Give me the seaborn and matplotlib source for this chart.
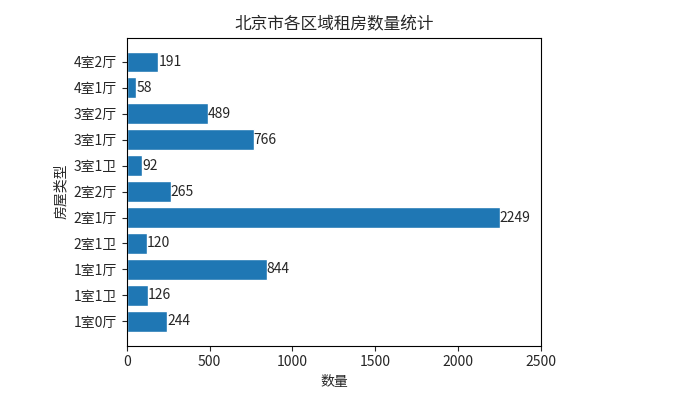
import matplotlib
matplotlib.use("Agg")
import matplotlib.pyplot as plt
import seaborn as sns
import pandas as pd

# house layouts, listed top to bottom as shown
room_types = ["4室2厅", "4室1厅", "3室2厅", "3室1厅", "3室1卫", "2室2厅",
              "2室1厅", "2室1卫", "1室1厅", "1室1卫", "1室0厅"]
counts = [191, 58, 489, 766, 92, 265, 2249, 120, 844, 126, 244]

sns.set_style("ticks")
plt.rcParams["font.family"] = ["Noto Sans CJK SC", "DejaVu Sans"]
plt.rcParams["axes.unicode_minus"] = False

df = pd.DataFrame({"type": room_types, "count": counts})

fig = plt.figure(figsize=(6.85, 3.95), dpi=100)
ax = fig.add_axes([0.185, 0.125, 0.605, 0.78])
sns.barplot(data=df, x="count", y="type", orient="h", color="#1f77b4",
            saturation=1, width=0.8, ax=ax)
ax.bar_label(ax.containers[0], labels=[str(c) for c in counts], fontsize=10)

ax.set_xlim(0, 2500)
ax.set_ylim(len(room_types) - 1 + 0.94, -0.94)
ax.set_xticks([0, 500, 1000, 1500, 2000, 2500])
ax.set_title("北京市各区域租房数量统计", fontsize=12)
ax.set_xlabel("数量", fontsize=10)
ax.set_ylabel("房屋类型", fontsize=10)
ax.tick_params(labelsize=10)
for s in ax.spines.values():
    s.set_visible(True)
    s.set_color("black")

fig.savefig("out.png", dpi=100)
